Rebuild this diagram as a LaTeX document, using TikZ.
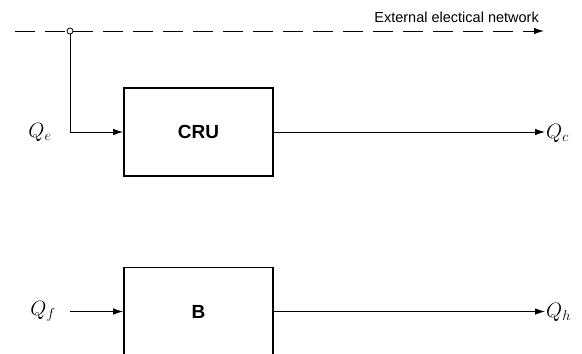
\documentclass[tikz,border=0pt]{standalone}
\usepackage{fontspec}
\setsansfont{Liberation Sans}
\usetikzlibrary{arrows.meta}

\begin{document}
\begin{tikzpicture}[x=1pt, y=-1pt, >={Latex[length=10pt,width=6.5pt]},
    block/.style={draw, line width=1.8pt, minimum width=149pt, minimum height=88pt,
        font=\sffamily\bfseries\fontsize{19}{19}\selectfont},
    flow/.style={->, line width=0.9pt},
    qlabel/.style={inner sep=1pt, font=\fontsize{22}{22}\selectfont}]
    \useasboundingbox (0,0) rectangle (582,354);

    % external network
    \coordinate (netL) at (15,31);
    \coordinate (netR) at (544,31);
    \node (tap) [circle, draw, fill=white, line width=0.8pt, inner sep=0pt, minimum size=6pt] at (70,31) {};
    \draw[line width=1pt, dash pattern=on 20pt off 10pt] (netL) -- (tap);
    \draw[->, line width=1pt, dash pattern=on 20pt off 10pt] (tap) -- (netR);
    \node (net) [anchor=south east, inner sep=0pt, font=\sffamily\fontsize{14.5}{14.5}\selectfont]
        at (539,23) {External electical network};

    % CRU
    \node (cru) [block] at (198.5,132) {CRU};
    \node (qe) [qlabel] at (40,132) {$Q_e$};
    \node (qc) [qlabel, anchor=west] at (545,133) {$Q_c$};
    \draw[flow] (tap) |- (cru);
    \draw[flow] (cru) -- (qc.west |- cru);

    % B
    \node (b) [block] at (198.5,311.5) {B};
    \node (qf) [qlabel] at (43,311.5) {$Q_f$};
    \coordinate (bin) at (70,311.5);
    \node (qh) [qlabel, anchor=west] at (545,312) {$Q_h$};
    \draw[flow] (bin) -- (b);
    \draw[flow] (b) -- (qh.west |- b);
\end{tikzpicture}
\end{document}
